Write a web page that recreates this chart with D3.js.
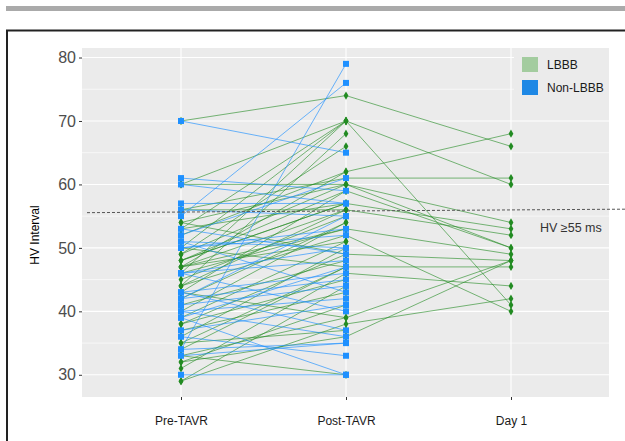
<!DOCTYPE html>
<html>
<head>
<meta charset="utf-8">
<style>
  body { margin: 0; background: #fff; }
  svg { display: block; font-family: "Liberation Sans", Arial, sans-serif; }
  .yax text { font-size: 16px; fill: #4d4d4d; }
  .xax text { font-size: 12px; fill: #1a1a1a; }
  .yax line, .xax line { stroke: #333; }
  .yax path, .xax path { display: none; }
</style>
<script src="https://d3js.org/d3.v7.min.js"></script>
</head>
<body>
<svg width="625" height="441"></svg>
<script>
// timepoints and axis ticks
var timepoints = ["Pre-TAVR", "Post-TAVR", "Day 1"];
var yTicks = [30, 40, 50, 60, 70, 80];
var yMinor = [35, 45, 55, 65, 75];
var cutoffLine = [55.55, 56.1];   // hand-drawn dashed line, left and right end

// LBBB patients: pre, post, day 1 (null = not measured)
var lbbbPre  = [70, 60, 53, 47, 56, 54, 49, 48, 44, 47, 38, 35, 44, 32, 31, 29, 33, 48,
                60, 44, 49, 50, 46, 52, 43, 48, 53, 47, 45, 42, 40, 46, 47, 39, 36, 41,
                34, 38, 33, 50, 54, 37, 29, 43, 35, 32, 56];
var lbbbPost = [74, 70, 70, 62, 61, 60, 60, 57, 56, 53, 49, 47, 52, 36, 46, 38, 39, 59,
                60, 68, 66, 70, 70, 62, 59, 57, 57, 56, 55, 54, 54, 53, 51, 51, 50, 48,
                47, 45, 30, 47, 49, 43, 44, 39, 37, 41, 56];
var lbbbDay1 = [66, 60, 41, 68, 61, 54, 50, 53, 52, 49, 48, 47, 40, 48, 44, 42, 48, 50,
                null, null, null, null, null, null, null, null, null, null, null, null,
                null, null, null, null, null, null, null, null, null, null, null, null,
                null, null, null, null, null];

// Non-LBBB patients: pre, post
var nonPre  = [70, 61, 60, 57, 55, 34, 56, 52, 51, 50, 46, 43, 42, 41, 40, 39, 37, 36,
               33, 30, 53, 51, 46, 43, 40, 34, 42, 46, 39, 50];
var nonPost = [65, 59, 57, 57, 76, 79, 55, 61, 50, 52, 48, 46, 45, 44, 42, 30, 41, 33,
               35, 30, 49, 43, 40, 37, 36, 35, 55, 50, 47, 53];

var svg = d3.select("svg");
var pLeft = 82, pRight = 609, pTop = 48, pBottom = 397;

var x = d3.scalePoint().domain(timepoints).range([181, 511]);
var y = d3.scaleLinear().domain([26.5, 81.5]).range([pBottom, pTop]);

// page decorations: grey rule and black frame
svg.append("rect").attr("x", 6).attr("y", 6).attr("width", 619).attr("height", 5).attr("fill", "#aaaaaa");
svg.append("rect").attr("x", 7).attr("y", 30.5).attr("width", 700).attr("height", 500)
  .attr("fill", "none").attr("stroke", "#222").attr("stroke-width", 2);

// panel
svg.append("rect").attr("x", pLeft).attr("y", pTop).attr("width", pRight - pLeft).attr("height", pBottom - pTop)
  .attr("fill", "#ebebeb");
var grid = svg.append("g");
grid.selectAll(".minor").data(yMinor).enter().append("line")
  .attr("x1", pLeft).attr("x2", pRight).attr("y1", d => y(d)).attr("y2", d => y(d))
  .attr("stroke", "#fff").attr("stroke-width", 0.6);
grid.selectAll(".major").data(yTicks).enter().append("line")
  .attr("x1", pLeft).attr("x2", pRight).attr("y1", d => y(d)).attr("y2", d => y(d))
  .attr("stroke", "#fff").attr("stroke-width", 1.1);
grid.selectAll(".vmajor").data(timepoints).enter().append("line")
  .attr("y1", pTop).attr("y2", pBottom).attr("x1", d => x(d)).attr("x2", d => x(d))
  .attr("stroke", "#fff").attr("stroke-width", 1.1);

// legend sits on top of panel with its own background
svg.append("rect").attr("x", 514).attr("y", pTop).attr("width", pRight - 514).attr("height", 57).attr("fill", "#ebebeb");

var lbbb = lbbbPre.map((p, i) => ({pre: p, post: lbbbPost[i], day1: lbbbDay1[i]}));
var non = nonPre.map((p, i) => ({pre: p, post: nonPost[i]}));

var greenLine = "rgba(34,139,34,0.6)", greenDot = "#228b22";
var blueLine = "rgba(30,144,255,0.65)", blueDot = "#1e90ff";

function pts(d) {
  var a = [[x("Pre-TAVR"), y(d.pre)], [x("Post-TAVR"), y(d.post)]];
  if (d.day1 != null) a.push([x("Day 1"), y(d.day1)]);
  return a;
}
var line = d3.line();

svg.append("g").selectAll("path").data(lbbb).enter().append("path")
  .attr("d", d => line(pts(d))).attr("fill", "none").attr("stroke", greenLine).attr("stroke-width", 1);
svg.append("g").selectAll("path").data(non).enter().append("path")
  .attr("d", d => line(pts(d))).attr("fill", "none").attr("stroke", blueLine).attr("stroke-width", 1);

var gPts = [];
lbbb.forEach(d => pts(d).forEach(p => gPts.push(p)));
svg.append("g").selectAll("path").data(gPts).enter().append("path")
  .attr("d", d3.symbol(d3.symbolDiamond, 20))
  .attr("transform", d => "translate(" + d[0] + "," + d[1] + ")")
  .attr("fill", greenDot);

var bPts = [];
non.forEach(d => pts(d).forEach(p => bPts.push(p)));
svg.append("g").selectAll("rect").data(bPts).enter().append("rect")
  .attr("x", d => d[0] - 3).attr("y", d => d[1] - 3).attr("width", 6).attr("height", 6)
  .attr("fill", blueDot);

// dashed reference line
svg.append("line").attr("x1", 87).attr("x2", 625)
  .attr("y1", y(cutoffLine[0])).attr("y2", y(cutoffLine[1]))
  .attr("stroke", "#555").attr("stroke-width", 1).attr("stroke-dasharray", "3,2");
svg.append("text").attr("x", 540).attr("y", 232).attr("font-size", 12.5).attr("fill", "#333")
  .text("HV \u226555 ms");

// axes
svg.append("g").attr("class", "yax").attr("transform", "translate(" + pLeft + ",0)")
  .call(d3.axisLeft(y).tickValues(yTicks).tickSize(3).tickPadding(3));
svg.append("g").attr("class", "xax").attr("transform", "translate(0," + pBottom + ")")
  .call(d3.axisBottom(x).tickSize(3).tickPadding(16));

svg.append("text").attr("transform", "translate(39,235) rotate(-90)")
  .attr("text-anchor", "middle").attr("font-size", 12).attr("fill", "#000").text("HV Interval");

// legend
var legend = svg.append("g");
legend.append("rect").attr("x", 522).attr("y", 57).attr("width", 16).attr("height", 15).attr("fill", "#a3cc9f");
legend.append("rect").attr("x", 522).attr("y", 80).attr("width", 16).attr("height", 15).attr("fill", "#1e88e5");
legend.append("text").attr("x", 547).attr("y", 69).attr("font-size", 12).attr("fill", "#1a1a1a").text("LBBB");
legend.append("text").attr("x", 547).attr("y", 92).attr("font-size", 12).attr("fill", "#1a1a1a").text("Non-LBBB");
</script>
</body>
</html>
